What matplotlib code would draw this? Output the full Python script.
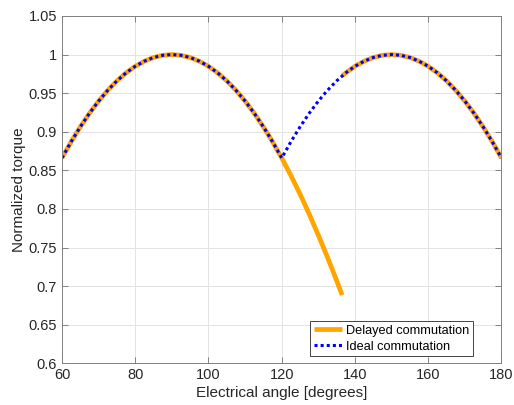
import matplotlib
matplotlib.use("Agg")
import matplotlib.pyplot as plt

plt.rcParams["font.family"] = ["Liberation Sans", "DejaVu Sans"]

# delayed commutation: torque keeps falling past 120 degrees
delayed_angle = [60, 62.5, 65, 67.5, 70, 72.5, 75, 77.5, 80, 82.5, 85, 87.5, 90,
                 92.5, 95, 97.5, 100, 102.5, 105, 107.5, 110, 112.5, 115, 117.5, 120,
                 122.5, 125, 127.5, 130, 132.5, 135, 136.5]
delayed_torque = [0.8660, 0.8870, 0.9063, 0.9239, 0.9397, 0.9537, 0.9659, 0.9763,
                  0.9848, 0.9914, 0.9962, 0.9990, 1.0000,
                  0.9990, 0.9962, 0.9914, 0.9848, 0.9763, 0.9659, 0.9537, 0.9397,
                  0.9239, 0.9063, 0.8870, 0.8660,
                  0.8434, 0.8192, 0.7934, 0.7660, 0.7373, 0.7071, 0.6884]
# after the late switch the next phase takes over
delayed_angle_after = [136.5, 137.5, 140, 142.5, 145, 147.5, 150,
                       152.5, 155, 157.5, 160, 162.5, 165, 167.5, 170, 172.5, 175, 177.5, 180]
delayed_torque_after = [0.9724, 0.9763, 0.9848, 0.9914, 0.9962, 0.9990, 1.0000,
                        0.9990, 0.9962, 0.9914, 0.9848, 0.9763, 0.9659, 0.9537, 0.9397,
                        0.9239, 0.9063, 0.8870, 0.8660]

# ideal commutation: switches at 120 degrees
ideal_angle = [60, 62.5, 65, 67.5, 70, 72.5, 75, 77.5, 80, 82.5, 85, 87.5, 90,
               92.5, 95, 97.5, 100, 102.5, 105, 107.5, 110, 112.5, 115, 117.5, 120,
               122.5, 125, 127.5, 130, 132.5, 135, 137.5, 140, 142.5, 145, 147.5, 150,
               152.5, 155, 157.5, 160, 162.5, 165, 167.5, 170, 172.5, 175, 177.5, 180]
ideal_torque = [0.8660, 0.8870, 0.9063, 0.9239, 0.9397, 0.9537, 0.9659, 0.9763,
                0.9848, 0.9914, 0.9962, 0.9990, 1.0000,
                0.9990, 0.9962, 0.9914, 0.9848, 0.9763, 0.9659, 0.9537, 0.9397,
                0.9239, 0.9063, 0.8870, 0.8660,
                0.8870, 0.9063, 0.9239, 0.9397, 0.9537, 0.9659, 0.9763,
                0.9848, 0.9914, 0.9962, 0.9990, 1.0000,
                0.9990, 0.9962, 0.9914, 0.9848, 0.9763, 0.9659, 0.9537, 0.9397,
                0.9239, 0.9063, 0.8870, 0.8660]

xticks = [60, 80, 100, 120, 140, 160, 180]
yticks = [0.6, 0.65, 0.7, 0.75, 0.8, 0.85, 0.9, 0.95, 1.0, 1.05]
ytick_labels = ["0.6", "0.65", "0.7", "0.75", "0.8", "0.85", "0.9", "0.95", "1", "1.05"]

fig = plt.figure(figsize=(5.14, 4.05), dpi=100)
ax = fig.add_axes([0.1206, 0.103, 0.855, 0.8576])

orange = "#FFA500"
ax.plot(delayed_angle, delayed_torque, color=orange, lw=3.4,
        solid_capstyle="butt", label="Delayed commutation")
ax.plot(delayed_angle_after, delayed_torque_after, color=orange, lw=3.4,
        solid_capstyle="butt")
ax.plot(ideal_angle, ideal_torque, color="#0000FF", lw=2.2,
        linestyle=(0, (1, 1)), label="Ideal commutation")

ax.set_xlim(60, 180)
ax.set_ylim(0.6, 1.05)
ax.set_xticks(xticks)
ax.set_yticks(yticks)
ax.set_yticklabels(ytick_labels)

ax.grid(True, color="#E3E3E3", lw=0.7)
ax.set_axisbelow(True)
ax.tick_params(direction="in", top=True, right=True, length=4, width=0.7,
               colors="#808080", labelcolor="#262626", labelsize=10.5)
for s in ax.spines.values():
    s.set_color("#808080")
    s.set_linewidth(0.7)

ax.set_xlabel("Electrical angle [degrees]", fontsize=11, color="#262626", labelpad=3)
ax.set_ylabel("Normalized torque", fontsize=11, color="#262626", labelpad=2)

leg = ax.legend(loc="lower right", bbox_to_anchor=(0.936, 0.02), fontsize=9.2,
                handlelength=2.2, handletextpad=0.3, borderpad=0.3,
                labelspacing=0.3, fancybox=False, framealpha=1, borderaxespad=0)
leg.get_frame().set_edgecolor("#262626")
leg.get_frame().set_linewidth(0.6)

fig.savefig("out.png", dpi=100)
